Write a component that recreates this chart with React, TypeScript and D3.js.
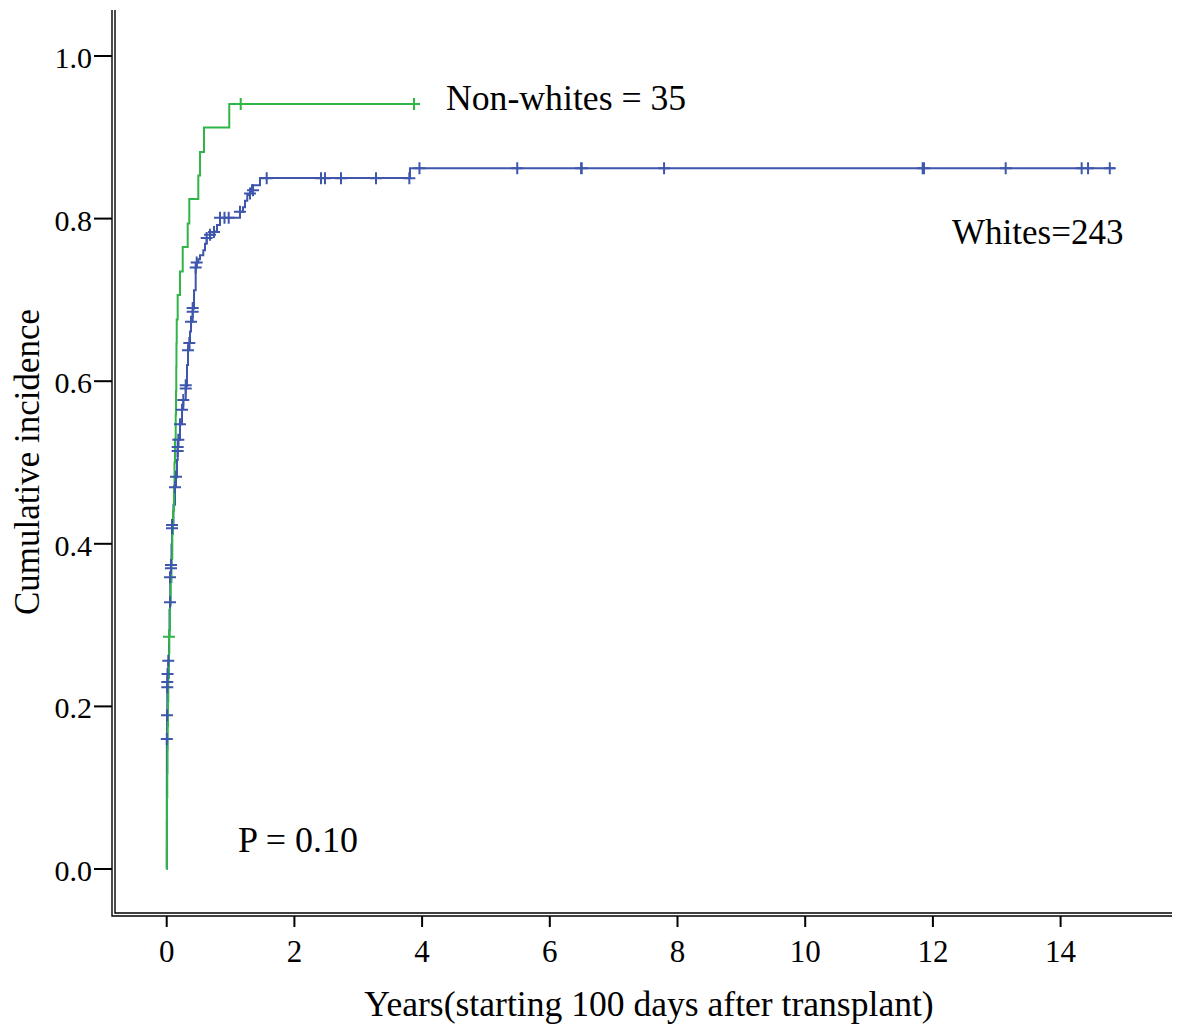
import React from 'react';
import * as d3 from 'd3';

const WIDTH = 1182;
const HEIGHT = 1030;

// Cumulative incidence step curve, non-white patients (n = 35)
const greenTimes = [0, 0.002, 0.003, 0.005, 0.009, 0.013, 0.016, 0.02, 0.025, 0.036, 0.041, 0.052, 0.063, 0.075, 0.088, 0.099, 0.114, 0.122, 0.13, 0.141, 0.146, 0.15, 0.153, 0.157, 0.172, 0.208, 0.251, 0.329, 0.354, 0.495, 0.522, 0.584, 0.98];
const greenValues = [0, 0.029, 0.059, 0.088, 0.118, 0.147, 0.176, 0.206, 0.235, 0.265, 0.294, 0.324, 0.353, 0.382, 0.412, 0.441, 0.471, 0.5, 0.529, 0.559, 0.588, 0.618, 0.647, 0.676, 0.706, 0.735, 0.765, 0.794, 0.824, 0.853, 0.882, 0.912, 0.941];
const greenEnd = 3.873;
const greenCensorTimes = [0.036, 1.159, 3.873];
const greenCensorValues = [0.2857, 0.941, 0.941];

// Cumulative incidence step curve, white patients (n = 243)
const blueTimes = [0, 0.002, 0.0025, 0.005, 0.009, 0.013, 0.025, 0.036, 0.044, 0.052, 0.055, 0.067, 0.075, 0.083, 0.106, 0.13, 0.146, 0.161, 0.172, 0.182, 0.208, 0.24, 0.26, 0.298, 0.318, 0.334, 0.354, 0.365, 0.381, 0.407, 0.428, 0.454, 0.47, 0.495, 0.522, 0.573, 0.6, 0.626, 0.678, 0.741, 0.788, 0.835, 1.148, 1.195, 1.226, 1.262, 1.305, 1.336, 1.461, 3.81];
const blueValues = [0, 0.109, 0.16, 0.189, 0.23, 0.24, 0.256, 0.288, 0.319, 0.328, 0.359, 0.374, 0.399, 0.423, 0.448, 0.47, 0.482, 0.503, 0.519, 0.528, 0.547, 0.566, 0.577, 0.594, 0.62, 0.638, 0.647, 0.661, 0.673, 0.689, 0.712, 0.74, 0.746, 0.75, 0.755, 0.761, 0.769, 0.776, 0.78, 0.784, 0.792, 0.801, 0.8085, 0.814, 0.822, 0.829, 0.833, 0.841, 0.85, 0.862];
const blueEnd = 14.85;
const blueCensorTimes = [0.002, 0.005, 0.009, 0.009, 0.013, 0.025, 0.052, 0.052, 0.067, 0.067, 0.083, 0.083, 0.13, 0.146, 0.172, 0.172, 0.182, 0.208, 0.24, 0.26, 0.298, 0.298, 0.334, 0.354, 0.381, 0.407, 0.407, 0.454, 0.47, 0.626, 0.678, 0.741, 0.835, 0.905, 0.971, 1.148, 1.305, 1.352, 1.566, 2.417, 2.479, 2.73, 3.278, 3.8, 3.959, 5.49, 6.49, 6.5, 7.79, 11.84, 11.86, 13.14, 14.33, 14.43, 14.77];
const blueCensorValues = [0.16, 0.189, 0.2235, 0.23, 0.24, 0.256, 0.328, 0.359, 0.374, 0.37, 0.423, 0.419, 0.4695, 0.4825, 0.519, 0.514, 0.528, 0.547, 0.565, 0.577, 0.595, 0.591, 0.638, 0.647, 0.673, 0.6855, 0.69, 0.74, 0.746, 0.776, 0.78, 0.7835, 0.801, 0.801, 0.801, 0.8085, 0.831, 0.835, 0.8496, 0.8496, 0.8496, 0.8496, 0.8496, 0.8496, 0.862, 0.862, 0.862, 0.862, 0.862, 0.862, 0.862, 0.862, 0.862, 0.862, 0.862];

const xTicks = [0, 2, 4, 6, 8, 10, 12, 14];
const yTicks = [0, 0.2, 0.4, 0.6, 0.8, 1.0];

const GREEN = '#2fb548';
const BLUE = '#3e56ab';
const FONT = '"Liberation Serif", "Times New Roman", serif';

const x = d3.scaleLinear().domain([0, 14]).range([166.7, 1060.6]);
const y = d3.scaleLinear().domain([0, 1]).range([869, 56]);

const stepLine = d3
  .line<[number, number]>()
  .x((d) => x(d[0]))
  .y((d) => y(d[1]))
  .curve(d3.curveStepAfter);

function curvePoints(times: number[], values: number[], end: number): [number, number][] {
  const pts: [number, number][] = times.map((t, i) => [t, values[i]]);
  pts.push([end, values[values.length - 1]]);
  return pts;
}

function censorPath(times: number[], values: number[], half = 6): string {
  return times
    .map((t, i) => {
      const cx = x(t);
      const cy = y(values[i]);
      return `M${cx - half},${cy}H${cx + half}M${cx},${cy - half}V${cy + half}`;
    })
    .join('');
}

export default function App() {
  const bluePath = stepLine(curvePoints(blueTimes, blueValues, blueEnd)) || '';
  const greenPath = stepLine(curvePoints(greenTimes, greenValues, greenEnd)) || '';

  const frameInnerX = 115;
  const frameOuterX = 112;
  const frameInnerY = 913;
  const frameOuterY = 916;
  const frameTop = 10;
  const frameRight = 1172;

  return (
    <svg
      width={WIDTH}
      height={HEIGHT}
      style={{ position: 'absolute', left: 0, top: 0, display: 'block', background: '#fff' }}
      fontFamily={FONT}
    >
      <rect width={WIDTH} height={HEIGHT} fill="#fff" />

      {/* double frame on left and bottom */}
      <g stroke="#000" strokeWidth={1.4} fill="none">
        <path d={`M${frameOuterX},${frameTop}V${frameOuterY}H${frameRight}`} />
        <path d={`M${frameInnerX},${frameTop}V${frameInnerY}H${frameRight}`} />
      </g>

      {/* y axis ticks and labels */}
      <g>
        {yTicks.map((v) => (
          <g key={v}>
            <line x1={94} x2={frameOuterX} y1={y(v)} y2={y(v)} stroke="#000" strokeWidth={2} />
            <text x={92} y={y(v) + 12} textAnchor="end" fontSize={30} fill="#000">
              {v.toFixed(1)}
            </text>
          </g>
        ))}
      </g>

      {/* x axis ticks and labels */}
      <g>
        {xTicks.map((t) => (
          <g key={t}>
            <line x1={x(t)} x2={x(t)} y1={frameOuterY} y2={927} stroke="#000" strokeWidth={2} />
            <text x={x(t)} y={962} textAnchor="middle" fontSize={31} fill="#000">
              {t}
            </text>
          </g>
        ))}
      </g>

      {/* axis titles */}
      <text x={649} y={1016} textAnchor="middle" fontSize={35.6} fill="#000">
        Years(starting 100 days after transplant)
      </text>
      <text
        transform={`translate(39,462) rotate(-90)`}
        textAnchor="middle"
        fontSize={35}
        fill="#000"
      >
        Cumulative incidence
      </text>

      {/* curves */}
      <path d={bluePath} fill="none" stroke={BLUE} strokeWidth={2} />
      <path d={greenPath} fill="none" stroke={GREEN} strokeWidth={2} />
      <path d={censorPath(blueCensorTimes, blueCensorValues)} fill="none" stroke={BLUE} strokeWidth={2} />
      <path d={censorPath(greenCensorTimes, greenCensorValues)} fill="none" stroke={GREEN} strokeWidth={2} />

      {/* annotations */}
      <text x={446} y={110} fontSize={35.7} fill="#000">
        Non-whites = 35
      </text>
      <text x={952} y={244} fontSize={35} fill="#000">
        Whites=243
      </text>
      <text x={238} y={852} fontSize={36} fill="#000">
        P = 0.10
      </text>
    </svg>
  );
}
